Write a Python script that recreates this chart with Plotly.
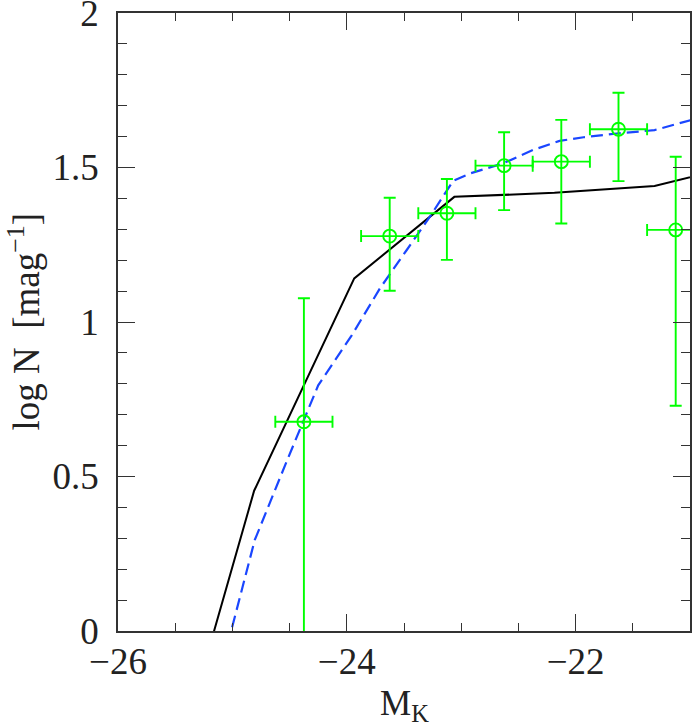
import plotly.graph_objects as go

# Observed luminosity function points
mk = [-24.375, -23.625, -23.125, -22.625, -22.125, -21.625, -21.125]
logn = [0.677, 1.278, 1.352, 1.506, 1.519, 1.624, 1.298]
logn_hi = [1.077, 1.402, 1.463, 1.614, 1.654, 1.742, 1.535]
logn_lo = [-1.0, 1.101, 1.201, 1.362, 1.319, 1.456, 0.729]
mk_halfbin = [0.25, 0.25, 0.25, 0.25, 0.25, 0.25, 0.25]

# Model 1 (solid black)
model1_mk = [-25.685, -24.81, -23.935, -23.06, -22.185, -21.31, -20.435]
model1_logn = [-0.68, 0.454, 1.141, 1.405, 1.418, 1.440, 1.52]

# Model 2 (dashed blue)
model2_mk = [-25.2, -25.01, -24.805, -24.53, -24.25, -23.96, -23.71, -23.476,
             -23.273, -23.07, -22.92, -22.63, -22.37, -22.14, -21.93, -21.64,
             -21.31, -20.44]
model2_logn = [-0.27, 0.0, 0.294, 0.545, 0.795, 0.955, 1.109, 1.233,
               1.341, 1.457, 1.481, 1.514, 1.557, 1.586, 1.598, 1.610,
               1.621, 1.71]

x_ticks = [-26, -24, -22]
y_ticks = [0, 0.5, 1, 1.5, 2]
y_ticktext = ["0", "0.5", "1", "1.5", "2"]

GREEN = "#00ff00"
BLUE = "#1a46ff"
FONT = "Liberation Serif"
TXT = "#222222"

err_plus = [h - v for h, v in zip(logn_hi, logn)]
err_minus = [v - l for v, l in zip(logn, logn_lo)]

fig = go.Figure()
fig.add_trace(go.Scatter(x=model1_mk, y=model1_logn, mode="lines",
                         line=dict(color="black", width=2), showlegend=False))
fig.add_trace(go.Scatter(x=model2_mk, y=model2_logn, mode="lines",
                         line=dict(color=BLUE, width=2.2, dash="12px,6px"),
                         showlegend=False))
fig.add_trace(go.Scatter(
    x=mk, y=logn, mode="markers",
    marker=dict(symbol="circle-open", size=13, color=GREEN,
                line=dict(color=GREEN, width=1.9)),
    error_y=dict(type="data", symmetric=False, array=err_plus,
                 arrayminus=err_minus, color=GREEN, thickness=1.9, width=6),
    error_x=dict(type="data", array=mk_halfbin, color=GREEN,
                 thickness=1.9, width=6),
    showlegend=False))

axis_common = dict(
    showgrid=False, zeroline=False, showline=True, linecolor="#333333",
    linewidth=1.5, mirror="ticks", ticks="inside", tickcolor="#333333",
    tickwidth=1.3, ticklen=17, automargin=False, ticklabeloverflow="allow",
    tickfont=dict(family=FONT, size=37, color=TXT),
)

fig.update_xaxes(range=[-26, -21], tickvals=x_ticks, ticklabelstandoff=-3,
                 minor=dict(dtick=0.5, ticks="inside", ticklen=8,
                            tickcolor="#333333", tickwidth=1.3),
                 **axis_common)
fig.update_yaxes(range=[0, 2], tickvals=y_ticks, ticktext=y_ticktext,
                 ticklabelstandoff=10,
                 minor=dict(dtick=0.1, ticks="inside", ticklen=9,
                            tickcolor="#333333", tickwidth=1.3),
                 **axis_common)

fig.update_layout(
    width=692, height=728,
    margin=dict(l=118, r=2, t=13, b=97),
    plot_bgcolor="white", paper_bgcolor="white",
    font=dict(family=FONT, color=TXT),
    annotations=[
        dict(text="M<sub>K</sub>", xref="paper", yref="paper", x=0.5,
             y=-0.158, xanchor="center", yanchor="bottom", showarrow=False,
             font=dict(family=FONT, size=35, color=TXT)),
        dict(text="log\u00a0N\u00a0\u00a0[mag<sup>−1</sup>]", xref="paper",
             yref="paper", x=-0.165, y=0.5, xanchor="center",
             yanchor="middle", textangle=-90, showarrow=False,
             font=dict(family=FONT, size=37, color=TXT)),
    ],
)

fig.write_html("out.html",
               config={"displayModeBar": False},
               post_script="document.body.style.margin='0px';"
                           "document.body.style.overflow='hidden';")
